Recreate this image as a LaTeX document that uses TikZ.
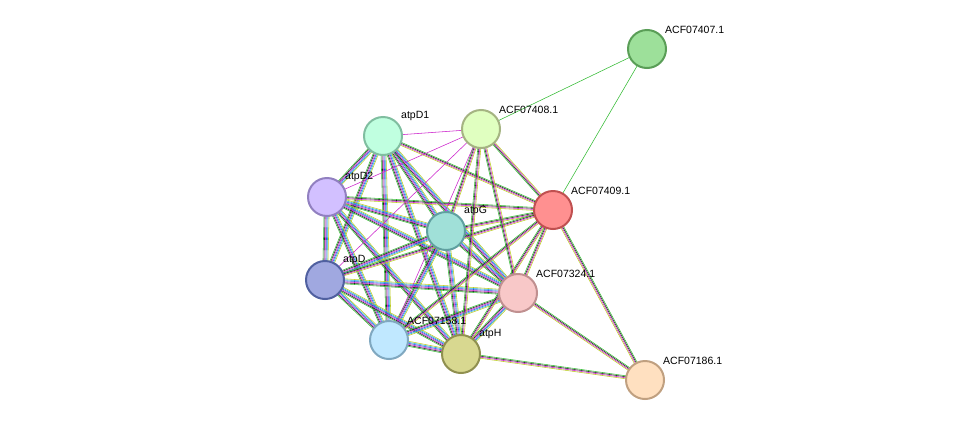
\documentclass[tikz,border=0pt]{standalone}
\usepackage{fontspec}
\setmainfont{Liberation Sans}
\usetikzlibrary{calc}
\definecolor{eg}{HTML}{33BB33}
\definecolor{ek}{HTML}{222222}
\definecolor{em}{HTML}{CC22CC}
\definecolor{eb}{HTML}{3355DD}
\definecolor{ec}{HTML}{22AADD}
\definecolor{ey}{HTML}{BBCC22}
\newcommand\Edg[4]{%
 \foreach \cc [count=\i] in {#4}{%
  \pgfmathsetmacro\dd{(\i-0.5*(#3+1))*1.0}
  \draw[\cc,line width=0.55pt] ($(#1)!\dd pt!90:(#2)$) -- ($(#2)!\dd pt!-90:(#1)$);}}
\tikzset{prot/.style={circle,minimum size=38pt,inner sep=0pt,line width=2pt},
 lab/.style={anchor=south west,font=\fontsize{10.5}{11}\selectfont,inner sep=1pt}}
\begin{document}
\begin{tikzpicture}[x=1pt,y=-1pt]
\useasboundingbox (0,0) rectangle (976,426);
\fill[white] (0,0) rectangle (976,426);
\coordinate (c407) at (647,49);
\coordinate (c408) at (481,129);
\coordinate (cd1) at (383,136);
\coordinate (cd2) at (327,197);
\coordinate (c409) at (553,210);
\coordinate (cg) at (446,231);
\coordinate (cd) at (325,280);
\coordinate (c324) at (518,293);
\coordinate (c158) at (389,340);
\coordinate (ch) at (461,354);
\coordinate (c186) at (645,380);
% edges
\Edg{c407}{c408}{1}{eg}
\Edg{c407}{c409}{1}{eg}
\foreach \a/\b in {cd1/cd2,cd1/cg,cd1/cd,cd1/c324,cd1/c158,cd1/ch,cd2/cg,cd2/cd,cd2/c324,cd2/c158,cd2/ch,cg/cd,cg/c324,cg/c158,cg/ch,cd/c324,cd/c158,cd/ch,c324/c158,c324/ch,c158/ch}
  {\Edg{\a}{\b}{6}{eg,ek,em,eb,ec,ey}}
\foreach \a in {cd1,cd2,cg,cd,c324,c158,ch}
  {\Edg{c409}{\a}{4}{eg,ek,em,ey}}
\foreach \a in {cg,c324,ch,c409}
  {\Edg{c408}{\a}{4}{eg,ek,em,ey}}
\foreach \a in {cd1,cd2,cd,c158}
  {\Edg{c408}{\a}{1}{em}}
\foreach \a in {c409,c324,ch}
  {\Edg{c186}{\a}{4}{eg,ek,em,ey}}
% nodes
\node[prot,fill={rgb,255:red,157;green,224;blue,154},draw={rgb,255:red,90;green,158;blue,87}] (n407) at (c407) {};
\node[prot,fill={rgb,255:red,224;green,255;blue,192},draw={rgb,255:red,165;green,180;blue,130}] (n408) at (c408) {};
\node[prot,fill={rgb,255:red,192;green,255;blue,224},draw={rgb,255:red,128;green,190;blue,160}] (nd1) at (cd1) {};
\node[prot,fill={rgb,255:red,210;green,192;blue,255},draw={rgb,255:red,145;green,128;blue,192}] (nd2) at (cd2) {};
\node[prot,fill={rgb,255:red,255;green,144;blue,144},draw={rgb,255:red,192;green,80;blue,80}] (n409) at (c409) {};
\node[prot,fill={rgb,255:red,160;green,224;blue,216},draw={rgb,255:red,96;green,160;blue,160}] (ng) at (cg) {};
\node[prot,fill={rgb,255:red,160;green,168;blue,224},draw={rgb,255:red,80;green,96;blue,160}] (nd) at (cd) {};
\node[prot,fill={rgb,255:red,248;green,200;blue,200},draw={rgb,255:red,192;green,144;blue,144}] (n324) at (c324) {};
\node[prot,fill={rgb,255:red,192;green,232;blue,255},draw={rgb,255:red,128;green,168;blue,192}] (n158) at (c158) {};
\node[prot,fill={rgb,255:red,216;green,216;blue,144},draw={rgb,255:red,144;green,144;blue,80}] (nh) at (ch) {};
\node[prot,fill={rgb,255:red,255;green,224;blue,192},draw={rgb,255:red,192;green,160;blue,128}] (n186) at (c186) {};
% labels
\node[lab] at (664,35) {ACF07407.1};
\node[lab] at (498,115) {ACF07408.1};
\node[lab] at (400,122) {atpD1};
\node[lab] at (344,183) {atpD2};
\node[lab] at (570,196) {ACF07409.1};
\node[lab] at (463,217) {atpG};
\node[lab] at (342,266) {atpD};
\node[lab] at (535,279) {ACF07324.1};
\node[lab] at (406,326) {ACF07158.1};
\node[lab] at (478,340) {atpH};
\node[lab] at (662,366) {ACF07186.1};
\end{tikzpicture}
\end{document}
